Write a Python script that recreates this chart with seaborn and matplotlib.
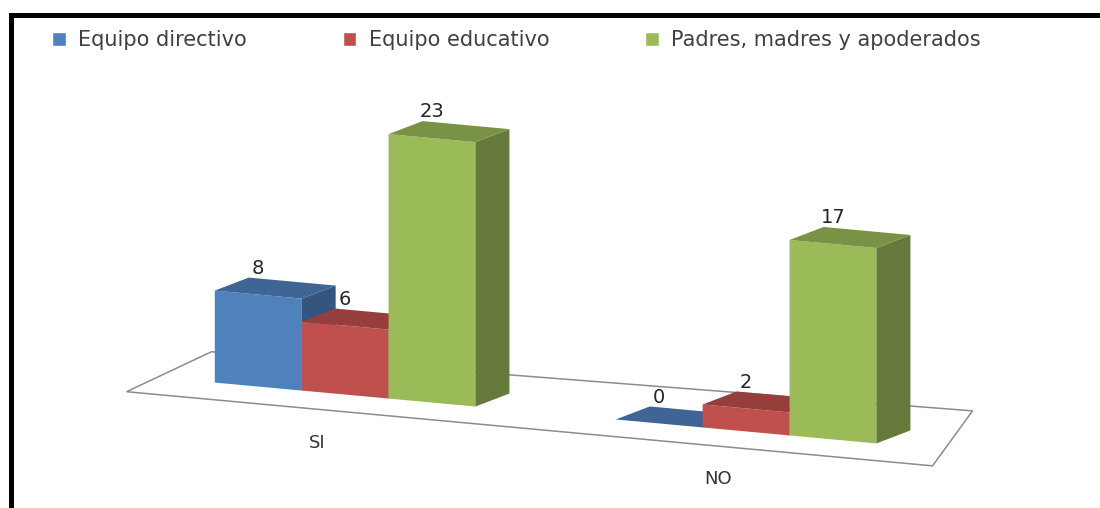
import numpy as np
import pandas as pd
import seaborn as sns
import matplotlib.pyplot as plt
from matplotlib.transforms import Affine2D, IdentityTransform
from matplotlib.patches import Polygon, Rectangle

# datos
respuestas = ["SI", "NO"]
grupos = ["Equipo directivo", "Equipo educativo", "Padres, madres y apoderados"]
equipo_directivo = [8, 0]
equipo_educativo = [6, 2]
padres_madres = [23, 17]

colores = ["#4F81BD", "#C0504D", "#9BBB59"]

df = pd.DataFrame({
    "respuesta": respuestas * 3,
    "grupo": np.repeat(grupos, 2),
    "valor": equipo_directivo + equipo_educativo + padres_madres,
})

sns.set_style("white")
plt.rcParams["font.family"] = ["DejaVu Sans"]

fig = plt.figure(figsize=(11, 5.08), dpi=100)
ax = fig.add_axes([0.095, 0.187, 0.802, 0.679])
sns.barplot(data=df, x="respuesta", y="valor", hue="grupo", hue_order=grupos,
            palette=colores, width=0.65, saturation=1, ax=ax)
ax.set_xlim(-0.6, 1.6)
ax.set_ylim(0, 30)

# inclinacion tipo perspectiva (excel 3D)
px, py = ax.transData.transform((0.5, 0))
inclinacion = Affine2D().translate(-px, -py).skew(0, -np.arctan(0.092)).translate(px, py)
trans = ax.transData + inclinacion

# solo las barras reales (seaborn deja parches vacios extra)
barras = sorted([p for c in ax.containers for p in c], key=lambda p: p.get_x())
prof = np.array([34, 13])

# piso
xl = min(p.get_x() for p in barras) - 0.22
xr = max(p.get_x() + p.get_width() for p in barras) + 0.14
fl = trans.transform((xl, -1.5))
fr = trans.transform((xr, -1.5))
piso = [fl, fr, fr + (40, 55), fl + (85, 40)]
ax.add_patch(Polygon(piso, closed=True, transform=IdentityTransform(), facecolor="white",
                     edgecolor="#8c8c8c", lw=1.1, zorder=1, clip_on=False))

for i, p in enumerate(barras):
    x0, x1, h = p.get_x(), p.get_x() + p.get_width(), p.get_height()
    p.set_transform(trans)
    p.set_clip_on(False)
    p.set_edgecolor("none")
    p.set_zorder(2 + i)
    col = np.array(p.get_facecolor()[:3])
    a = trans.transform((x0, h))
    b = trans.transform((x1, h))
    c = trans.transform((x1, 0))
    tapa = [a, b, b + prof, a + prof]
    lado = [b, c, c + prof, b + prof]
    ax.add_patch(Polygon(lado, closed=True, transform=IdentityTransform(), facecolor=col * 0.66,
                         edgecolor="none", zorder=2 + i, clip_on=False))
    ax.add_patch(Polygon(tapa, closed=True, transform=IdentityTransform(), facecolor=col * 0.78,
                         edgecolor="none", zorder=2 + i, clip_on=False))
    ax.annotate(f"{h:.0f}", xy=((x0 + x1) / 2, h), xycoords=trans, xytext=(0, 19),
                textcoords="offset points", ha="center", va="center", fontsize=14,
                color="#262626", zorder=50)

for k, r in enumerate(respuestas):
    ax.text(k - 0.07, -4.4, r, transform=trans, ha="center", va="center",
            fontsize=13, color="#333333")

handles, labels = ax.get_legend_handles_labels()
ax.get_legend().remove()
ax.axis("off")

fig.legend(handles, labels, ncol=3, loc="center left", bbox_to_anchor=(52 / 1100, 0.921),
           frameon=False, fontsize=15, handlelength=0.65, handleheight=0.65,
           handletextpad=0.6, columnspacing=4.6, borderpad=0, borderaxespad=0,
           labelcolor="#404040")

# marco negro (recortado a la derecha y abajo)
fig.add_artist(Rectangle((0.010, -0.2), 1.5, 0.9705 + 0.2, transform=fig.transFigure,
                         fill=False, lw=3.6, edgecolor="black"))

fig.savefig("out.png", dpi=100)
